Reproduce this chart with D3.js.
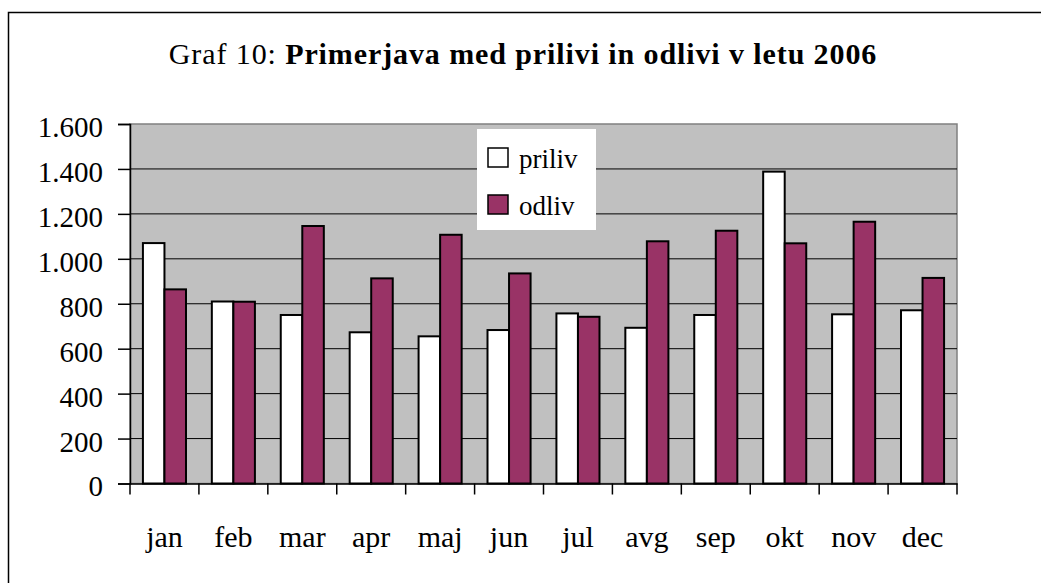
<!DOCTYPE html>
<meta charset="utf-8">
<title>Graf 10</title>
<head>
  <script src="https://d3js.org/d3.v7.min.js"></script>
  <style>
    body { margin: 0; background: #fff; }
    text { font-family: "Liberation Serif", "Times New Roman", serif; fill: #000; }
  </style>
</head>
<body>
  <div id="chart"></div>
</body>
<script>
    // data
    var months = ["jan", "feb", "mar", "apr", "maj", "jun", "jul", "avg", "sep", "okt", "nov", "dec"];
    var priliv = [1070, 810, 750, 673, 655, 683, 757, 693, 750, 1388, 753, 771];
    var odliv  = [864, 809, 1146, 913, 1107, 935, 742, 1078, 1125, 1069, 1165, 915];
    var seriesNames = ["priliv", "odliv"];
    var seriesColors = ["#ffffff", "#993366"];
    var yTicks = [0, 200, 400, 600, 800, 1000, 1200, 1400, 1600];

    var W = 1041, H = 583;
    var margin = {top: 124, left: 130},
        width = 957 - margin.left,
        height = 483.5 - margin.top;

    var svg = d3.select("#chart")
      .append("svg")
        .attr("width", W)
        .attr("height", H);

    // outer chart frame (cropped on right and bottom)
    svg.append("rect")
      .attr("x", 8.5).attr("y", 12.5)
      .attr("width", W + 10).attr("height", H + 10)
      .attr("fill", "none").attr("stroke", "#000").attr("stroke-width", 1.5);

    // title
    var title = svg.append("text")
      .attr("x", 523).attr("y", 64)
      .attr("text-anchor", "middle")
      .style("font-size", "30px")
      .style("letter-spacing", "0.9px");
    title.append("tspan").text("Graf 10: ");
    title.append("tspan").style("font-weight", "bold").text("Primerjava med prilivi in odlivi v letu 2006");

    var g = svg.append("g")
      .attr("transform", "translate(" + margin.left + "," + margin.top + ")");

    var x = d3.scaleBand()
      .domain(months)
      .range([0, width]);

    var x1 = d3.scaleBand()
      .domain(seriesNames)
      .range([0, x.bandwidth()])
      .paddingInner(0)
      .paddingOuter(0.6);

    var y = d3.scaleLinear()
      .domain([0, 1600])
      .range([height, 0]);

    // plot area
    g.append("rect")
      .attr("width", width).attr("height", height)
      .attr("fill", "#c0c0c0")
      .attr("stroke", "#808080").attr("stroke-width", 1.5);

    // gridlines
    g.append("g")
      .selectAll("line")
      .data(yTicks.filter(function(d) { return d > 0 && d < 1600; }))
      .enter().append("line")
        .attr("x1", 0).attr("x2", width)
        .attr("y1", function(d) { return y(d); })
        .attr("y2", function(d) { return y(d); })
        .attr("stroke", "#000").attr("stroke-width", 1);

    // bars
    var rows = months.map(function(m, i) { return {month: m, values: [priliv[i], odliv[i]]}; });
    g.append("g")
      .selectAll("g")
      .data(rows)
      .enter().append("g")
        .attr("transform", function(d) { return "translate(" + x(d.month) + ",0)"; })
      .selectAll("rect")
      .data(function(d) { return d.values.map(function(v, k) { return {key: seriesNames[k], value: v, k: k}; }); })
      .enter().append("rect")
        .attr("x", function(d) { return x1(d.key); })
        .attr("width", x1.bandwidth())
        .attr("y", function(d) { return y(d.value); })
        .attr("height", function(d) { return height - y(d.value); })
        .attr("fill", function(d) { return seriesColors[d.k]; })
        .attr("stroke", "#000").attr("stroke-width", 2);

    // y axis
    var yAxis = g.append("g")
      .call(d3.axisLeft(y).tickValues(yTicks).tickSize(12).tickPadding(15)
        .tickFormat(function(d) { return d3.format(",")(d).replace(/,/g, "."); }));
    yAxis.select(".domain").attr("stroke", "#000").attr("stroke-width", 1.5);
    yAxis.selectAll(".tick line").attr("stroke", "#000").attr("stroke-width", 1.5);
    yAxis.selectAll("text").style("font-size", "29px").attr("dy", "0.43em");

    // x axis
    var xAxis = g.append("g")
      .attr("transform", "translate(0," + height + ")")
      .call(d3.axisBottom(x).tickSize(0));
    xAxis.select(".domain").attr("stroke", "#000").attr("stroke-width", 1.5);
    xAxis.selectAll("text").style("font-size", "30px").attr("y", 63.5).attr("dy", 0);
    // category separators
    xAxis.append("g")
      .selectAll("line")
      .data(months.concat(["end"]))
      .enter().append("line")
        .attr("x1", function(d, i) { return i * x.step(); })
        .attr("x2", function(d, i) { return i * x.step(); })
        .attr("y1", 0).attr("y2", 11)
        .attr("stroke", "#000").attr("stroke-width", 1.5);

    // legend
    var legend = svg.append("g").attr("transform", "translate(477,129)");
    legend.append("rect").attr("width", 119).attr("height", 101).attr("fill", "#fff");
    var items = legend.selectAll("g.item")
      .data(seriesNames)
      .enter().append("g").attr("class", "item")
        .attr("transform", function(d, i) { return "translate(0," + (i * 47) + ")"; });
    items.append("rect")
      .attr("x", 11).attr("y", 19)
      .attr("width", 20).attr("height", 19)
      .attr("fill", function(d, i) { return seriesColors[i]; })
      .attr("stroke", "#000").attr("stroke-width", 1.5);
    items.append("text")
      .attr("x", 42).attr("y", 39)
      .style("font-size", "27px")
      .text(function(d) { return d; });
</script>
